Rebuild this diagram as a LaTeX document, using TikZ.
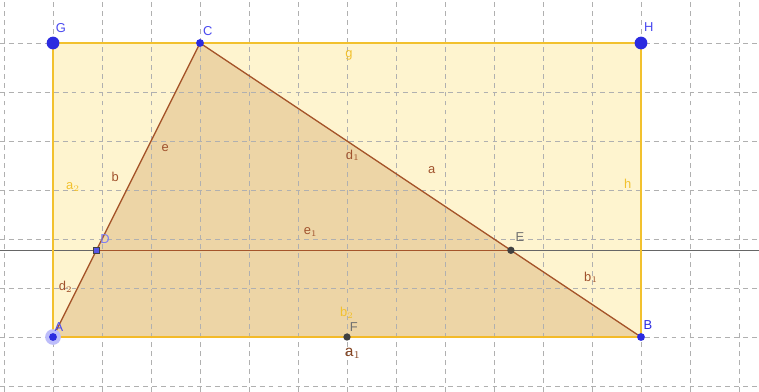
\documentclass[tikz,border=0pt]{standalone}
\usepackage{fontspec}
\setmainfont{Liberation Sans}
\usetikzlibrary{calc}
\definecolor{rectfill}{HTML}{FEF4CF}
\definecolor{rectedge}{HTML}{F2C12E}
\definecolor{trifill}{HTML}{EDD5A6}
\definecolor{triedge}{HTML}{A5552A}
\definecolor{ptblue}{HTML}{2B2BE0}
\definecolor{lblblue}{HTML}{4A4AF0}
\definecolor{lightblue}{HTML}{7C7CF5}
\definecolor{ptgray}{HTML}{404040}
\definecolor{lblgray}{HTML}{707070}
\definecolor{lblbrown}{HTML}{A0522D}
\definecolor{lblyellow}{HTML}{F2C12E}
\definecolor{gridgray}{HTML}{B0B0B0}
\tikzset{
  gridline/.style={gridgray, line width=0.5pt, dash pattern=on 2.8pt off 2.4pt},
  rectside/.style={rectedge, line width=1.2pt},
  triside/.style={triedge, line width=0.8pt},
  lbl/.style={inner sep=0pt, font=\fontsize{7.5}{8}\selectfont},
  ptlbl/.style={lbl, lblblue},
  graylbl/.style={lbl, lblgray},
  brownlbl/.style={lbl, lblbrown},
  yellowlbl/.style={lbl, lblyellow},
  bigpt/.style={circle, fill=ptblue, inner sep=0pt, minimum size=0.26cm},
  smallpt/.style={circle, fill=ptblue, inner sep=0pt, minimum size=0.16cm},
  graypt/.style={circle, fill=ptgray, inner sep=0pt, minimum size=0.15cm},
}
\begin{document}
\begin{tikzpicture}
\useasboundingbox (-1.082,-1.122) rectangle (14.408,6.878);
\fill[white] (-1.082,-1.122) rectangle (14.408,6.878);
% coordinates
\coordinate (A) at (0,0);
\coordinate (B) at (12,0);
\coordinate (C) at (3,6);
\coordinate (G) at (0,6);
\coordinate (H) at (12,6);
\coordinate (D) at (0.885,1.77);
\coordinate (E) at (9.345,1.77);
\coordinate (F) at (6,0);
\coordinate (L) at (-1.082,1.77);
\coordinate (R) at (14.408,1.77);
% fills
\fill[rectfill] (A) -- (G) -- (H) -- (B) -- cycle;
\fill[trifill] (A) -- (C) -- (B) -- cycle;
% grid
\foreach \x in {-1,...,14} \draw[gridline] (\x,-1.122) -- (\x,6.878);
\foreach \y in {-1,...,6} \draw[gridline] (-1.082,\y) -- (14.408,\y);
% line through D and E
\draw[ptgray!80, line width=0.6pt] (L) -- (R);
\draw[triside] (D) -- (E);
% rectangle sides
\draw[rectside] (A) -- (G);
\draw[rectside] (G) -- (H);
\draw[rectside] (H) -- (B);
% triangle sides
\draw[triside] (A) -- (C);
\draw[triside] (C) -- (B);
\draw[rectedge!90!orange, line width=1.4pt] (A) -- (B);
% points
\fill[lightblue!50] (A) circle (0.16);
\node[bigpt] (Gp) at (G) {};
\node[bigpt] (Hp) at (H) {};
\node[smallpt] (Cp) at (C) {};
\node[smallpt] (Bp) at (B) {};
\node[smallpt] (Ap) at (A) {};
\node[rectangle, fill=ptblue!80, draw=ptgray, line width=0.3pt, inner sep=0pt, minimum size=0.12cm] (Dp) at (D) {};
\node[graypt] (Ep) at (E) {};
\node[graypt] (Fp) at (F) {};
% point labels
\node[ptlbl] (lG) at (0.16,6.31) {G};
\node[ptlbl] (lC) at (3.16,6.24) {C};
\node[ptlbl] (lH) at (12.16,6.33) {H};
\node[ptlbl] (lA) at (0.12,0.20) {A};
\node[ptlbl, text=ptblue] (lB) at (12.14,0.24) {B};
\node[lbl, text=lightblue] (lD) at (1.06,2.0) {D};
\node[graylbl] (lE) at (9.53,2.04) {E};
\node[graylbl] (lF) at (6.14,0.2) {F};
% side labels
\node[yellowlbl] (lg) at (6.04,5.74) {g};
\node[yellowlbl] (lh) at (11.73,3.12) {h};
\node[yellowlbl] (la2) at (0.41,3.06) {a$_2$};
\node[yellowlbl] (lb2) at (6.0,0.5) {b$_2$};
\node[brownlbl] (le) at (2.29,3.86) {e};
\node[brownlbl] (lb) at (1.27,3.27) {b};
\node[brownlbl] (ld1) at (6.12,3.71) {d$_1$};
\node[brownlbl] (la) at (7.73,3.41) {a};
\node[brownlbl] (le1) at (5.26,2.14) {e$_1$};
\node[brownlbl] (ld2) at (0.26,1.02) {d$_2$};
\node[brownlbl] (lb1) at (10.98,1.22) {b$_1$};
\node[lbl, text=triedge!80!black, font=\fontsize{9}{10}\selectfont] (la1) at (6.12,-0.33) {a$_1$};
\end{tikzpicture}
\end{document}
